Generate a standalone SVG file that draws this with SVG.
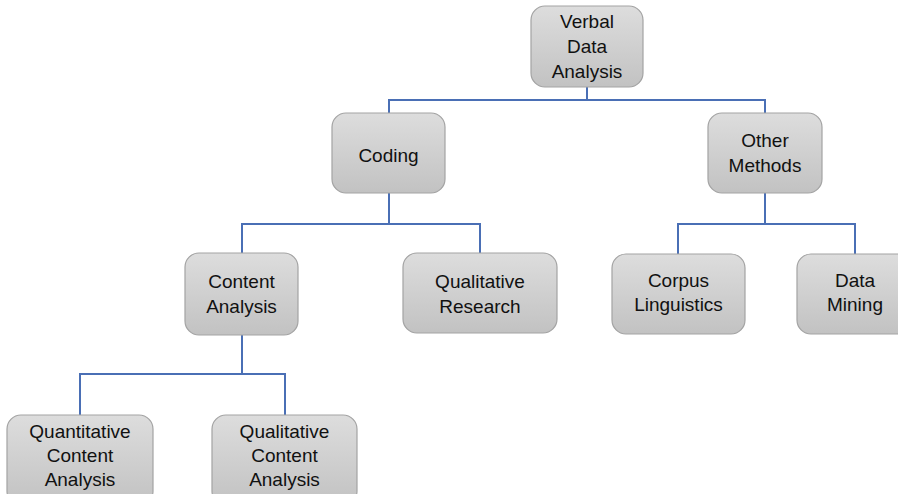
<svg xmlns="http://www.w3.org/2000/svg" width="898" height="494" viewBox="0 0 898 494">
<defs>
<linearGradient id="g" x1="0" y1="0" x2="0" y2="1">
<stop offset="0" stop-color="#dddddd"/>
<stop offset="1" stop-color="#c2c2c2"/>
</linearGradient>
<style>
.box{fill:url(#g);stroke:#a3a3a3;stroke-width:1.2}
.t{font-family:"Liberation Sans",Arial,sans-serif;font-size:19px;fill:#111;text-anchor:middle}
.c{fill:none;stroke:#4a6fb5;stroke-width:2}
</style>
</defs>
<rect width="898" height="494" fill="#ffffff"/>
<g id="connectors">
<path class="c" d="M587,87V100M389,113V100H765V113"/>
<path class="c" d="M389,193V224M242,253V224H480V253"/>
<path class="c" d="M765,193V224M678,254V224H855V254"/>
<path class="c" d="M242,335V374M80,415V374H285V415"/>
</g>
<g id="verbal-data-analysis">
<rect class="box" x="531" y="6" width="112" height="81" rx="14"/>
<text class="t" x="587" y="28">Verbal</text>
<text class="t" x="587" y="53">Data</text>
<text class="t" x="587" y="78">Analysis</text>
</g>
<g id="coding">
<rect class="box" x="332" y="113" width="113" height="80" rx="14"/>
<text class="t" x="388.5" y="162">Coding</text>
</g>
<g id="other-methods">
<rect class="box" x="708" y="113" width="114" height="80" rx="14"/>
<text class="t" x="765" y="147">Other</text>
<text class="t" x="765" y="172">Methods</text>
</g>
<g id="content-analysis">
<rect class="box" x="185" y="253" width="113" height="82" rx="14"/>
<text class="t" x="241.5" y="288">Content</text>
<text class="t" x="241.5" y="313">Analysis</text>
</g>
<g id="qualitative-research">
<rect class="box" x="403" y="253" width="154" height="80" rx="14"/>
<text class="t" x="480" y="288">Qualitative</text>
<text class="t" x="480" y="313">Research</text>
</g>
<g id="corpus-linguistics">
<rect class="box" x="612" y="254" width="133" height="80" rx="14"/>
<text class="t" x="678.5" y="287">Corpus</text>
<text class="t" x="678.5" y="311">Linguistics</text>
</g>
<g id="data-mining">
<rect class="box" x="797" y="254" width="116" height="80" rx="14"/>
<text class="t" x="855" y="287">Data</text>
<text class="t" x="855" y="311">Mining</text>
</g>
<g id="quantitative-content-analysis">
<rect class="box" x="7" y="415" width="146" height="90" rx="14"/>
<text class="t" x="80" y="438">Quantitative</text>
<text class="t" x="80" y="462">Content</text>
<text class="t" x="80" y="486">Analysis</text>
</g>
<g id="qualitative-content-analysis">
<rect class="box" x="212" y="415" width="145" height="90" rx="14"/>
<text class="t" x="284.5" y="438">Qualitative</text>
<text class="t" x="284.5" y="462">Content</text>
<text class="t" x="284.5" y="486">Analysis</text>
</g>
</svg>
